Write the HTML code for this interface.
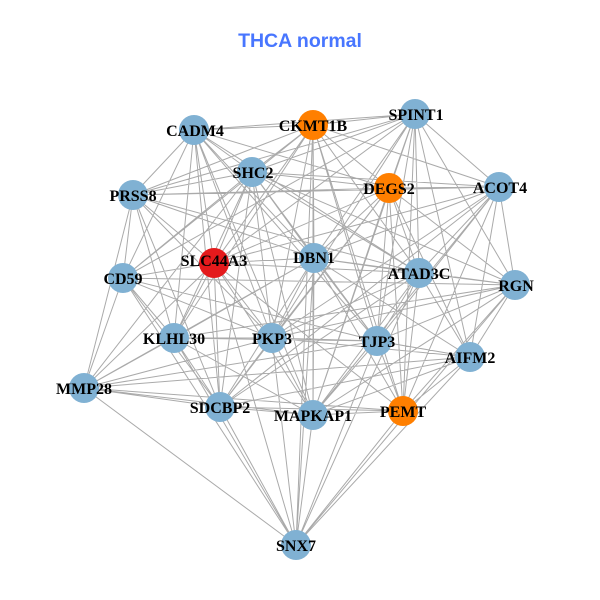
<!DOCTYPE html>
<html>
<head>
<meta charset="utf-8">
<style>
html,body{margin:0;padding:0;background:#fff;}
svg{display:block;}
.lbl{font-family:"Liberation Serif","DejaVu Serif",serif;font-weight:bold;font-size:16px;fill:#000;text-anchor:middle;}
.ttl{font-family:"Liberation Sans","DejaVu Sans",sans-serif;font-weight:bold;font-size:19.5px;fill:#4876FF;text-anchor:middle;}
</style>
</head>
<body>
<svg width="600" height="600" viewBox="0 0 600 600" xmlns="http://www.w3.org/2000/svg">
<rect width="600" height="600" fill="#fff"/>
<text class="ttl" x="300" y="47">THCA normal</text>
<path fill="none" stroke="#aaaaaa" stroke-width="1" d="
M194 130L313 125 M194 130L415 114 M194 130L252 172 M194 130L389 188 M194 130L133 195 M194 130L214 263 M194 130L314 258 M194 130L419 273 M194 130L123 278 M194 130L174 338 M194 130L272 338 M194 130L220 407 M194 130L313 415 M194 130L377 341
M313 125L415 114 M313 125L252 172 M313 125L389 188 M313 125L499 187 M313 125L133 195 M313 125L214 263 M313 125L314 258 M313 125L419 273 M313 125L123 278 M313 125L174 338 M313 125L272 338 M313 125L377 341 M313 125L313 415 M313 125L403 411 M313 125L296 545
M415 114L252 172 M415 114L389 188 M415 114L499 187 M415 114L133 195 M415 114L214 263 M415 114L314 258 M415 114L419 273 M415 114L515 285 M415 114L377 341 M415 114L470 357 M415 114L313 415 M415 114L403 411 M415 114L272 338 M415 114L123 278
M252 172L389 188 M252 172L499 187 M252 172L133 195 M252 172L214 263 M252 172L314 258 M252 172L419 273 M252 172L515 285 M252 172L123 278 M252 172L174 338 M252 172L272 338 M252 172L377 341 M252 172L84 388 M252 172L220 407 M252 172L313 415
M389 188L499 187 M389 188L133 195 M389 188L214 263 M389 188L314 258 M389 188L419 273 M389 188L515 285 M389 188L272 338 M389 188L377 341 M389 188L470 357 M389 188L220 407 M389 188L313 415 M389 188L403 411
M499 187L133 195 M499 187L314 258 M499 187L419 273 M499 187L515 285 M499 187L272 338 M499 187L377 341 M499 187L470 357 M499 187L403 411 M499 187L214 263 M499 187L220 407 M499 187L313 415
M133 195L214 263 M133 195L314 258 M133 195L419 273 M133 195L123 278 M133 195L174 338 M133 195L272 338 M133 195L84 388 M133 195L220 407
M214 263L314 258 M214 263L419 273 M214 263L123 278 M214 263L174 338 M214 263L272 338 M214 263L84 388 M214 263L220 407 M214 263L313 415 M214 263L403 411 M214 263L296 545
M314 258L419 273 M314 258L515 285 M314 258L174 338 M314 258L272 338 M314 258L377 341 M314 258L470 357 M314 258L84 388 M314 258L220 407 M314 258L313 415 M314 258L403 411 M314 258L296 545
M419 273L515 285 M419 273L272 338 M419 273L377 341 M419 273L470 357 M419 273L220 407 M419 273L313 415 M419 273L403 411 M419 273L296 545
M515 285L272 338 M515 285L377 341 M515 285L470 357 M515 285L313 415 M515 285L403 411 M515 285L296 545 M515 285L123 278 M515 285L174 338
M123 278L174 338 M123 278L272 338 M123 278L377 341 M123 278L84 388 M123 278L220 407 M123 278L296 545
M174 338L272 338 M174 338L377 341 M174 338L84 388 M174 338L220 407 M174 338L313 415 M174 338L296 545
M272 338L377 341 M272 338L470 357 M272 338L84 388 M272 338L220 407 M272 338L313 415 M272 338L296 545
M377 341L470 357 M377 341L84 388 M377 341L313 415 M377 341L403 411 M377 341L296 545
M470 357L84 388 M470 357L220 407 M470 357L313 415 M470 357L403 411 M470 357L296 545
M84 388L220 407 M84 388L313 415 M84 388L403 411 M84 388L296 545
M220 407L313 415 M220 407L403 411 M220 407L296 545
M313 415L403 411 M313 415L296 545
M403 411L296 545
"/>
<g stroke="none">
<circle cx="194" cy="130" r="15" fill="#80B1D3"/>
<circle cx="313" cy="125" r="15" fill="#FF7F00"/>
<circle cx="415" cy="114" r="15" fill="#80B1D3"/>
<circle cx="252" cy="172" r="15" fill="#80B1D3"/>
<circle cx="389" cy="188" r="15" fill="#FF7F00"/>
<circle cx="499" cy="187" r="15" fill="#80B1D3"/>
<circle cx="133" cy="195" r="15" fill="#80B1D3"/>
<circle cx="214" cy="263" r="15" fill="#E41A1C"/>
<circle cx="314" cy="258" r="15" fill="#80B1D3"/>
<circle cx="419" cy="273" r="15" fill="#80B1D3"/>
<circle cx="515" cy="285" r="15" fill="#80B1D3"/>
<circle cx="123" cy="278" r="15" fill="#80B1D3"/>
<circle cx="174" cy="338" r="15" fill="#80B1D3"/>
<circle cx="272" cy="338" r="15" fill="#80B1D3"/>
<circle cx="377" cy="341" r="15" fill="#80B1D3"/>
<circle cx="470" cy="357" r="15" fill="#80B1D3"/>
<circle cx="84" cy="388" r="15" fill="#80B1D3"/>
<circle cx="220" cy="407" r="15" fill="#80B1D3"/>
<circle cx="313" cy="415" r="15" fill="#80B1D3"/>
<circle cx="403" cy="411" r="15" fill="#FF7F00"/>
<circle cx="296" cy="545" r="15" fill="#80B1D3"/>
</g>
<text class="lbl" x="195" y="136">CADM4</text>
<text class="lbl" x="313" y="131">CKMT1B</text>
<text class="lbl" x="416" y="120">SPINT1</text>
<text class="lbl" x="253" y="178">SHC2</text>
<text class="lbl" x="389" y="194">DEGS2</text>
<text class="lbl" x="500" y="193">ACOT4</text>
<text class="lbl" x="133" y="201">PRSS8</text>
<text class="lbl" x="214" y="266">SLC44A3</text>
<text class="lbl" x="314" y="263">DBN1</text>
<text class="lbl" x="419" y="279">ATAD3C</text>
<text class="lbl" x="516" y="291">RGN</text>
<text class="lbl" x="123" y="284">CD59</text>
<text class="lbl" x="174" y="344">KLHL30</text>
<text class="lbl" x="272" y="344">PKP3</text>
<text class="lbl" x="377" y="347">TJP3</text>
<text class="lbl" x="470" y="363">AIFM2</text>
<text class="lbl" x="84" y="394">MMP28</text>
<text class="lbl" x="220" y="413">SDCBP2</text>
<text class="lbl" x="313" y="421">MAPKAP1</text>
<text class="lbl" x="403" y="417">PEMT</text>
<text class="lbl" x="296" y="551">SNX7</text>
</svg>
</body>
</html>
